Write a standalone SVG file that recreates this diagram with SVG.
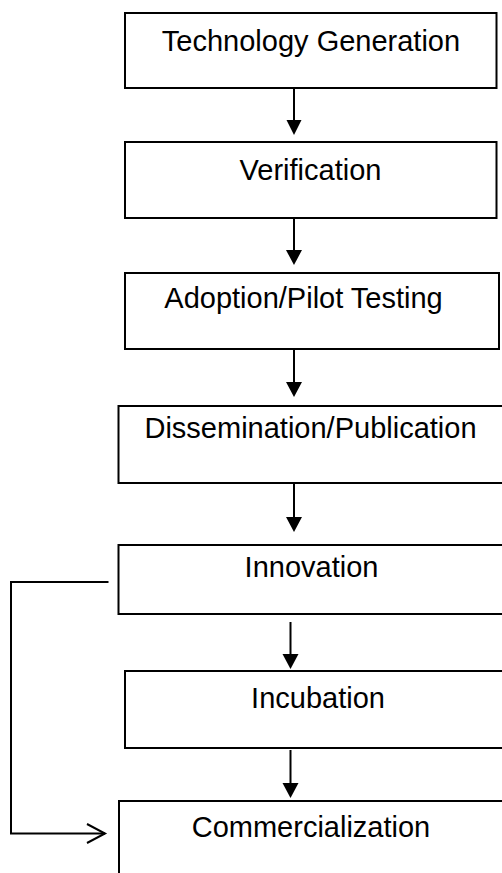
<svg xmlns="http://www.w3.org/2000/svg" width="502" height="873" viewBox="0 0 502 873">
<style>
.box{fill:#fff;stroke:#000;stroke-width:2}
.lbl{font-family:"Liberation Sans",Arial,sans-serif;font-size:29px;fill:#000;text-anchor:middle}
.ln{fill:none;stroke:#000;stroke-width:2}
.head{fill:#000;stroke:none}
</style>
<g id="node-technology-generation">
<rect class="box" x="125" y="13" width="371.5" height="75"/>
<text class="lbl" x="311" y="51">Technology Generation</text>
</g>
<g id="node-verification">
<rect class="box" x="125" y="142" width="371.5" height="76"/>
<text class="lbl" x="310.5" y="180">Verification</text>
</g>
<g id="node-adoption">
<rect class="box" x="125" y="273" width="374" height="76"/>
<text class="lbl" x="303.5" y="308">Adoption/Pilot Testing</text>
</g>
<g id="node-dissemination">
<rect class="box" x="118.5" y="406" width="390" height="77"/>
<text class="lbl" x="310.5" y="438">Dissemination/Publication</text>
</g>
<g id="node-innovation">
<rect class="box" x="118.5" y="545" width="390" height="69"/>
<text class="lbl" x="311.5" y="577">Innovation</text>
</g>
<g id="node-incubation">
<rect class="box" x="125" y="671" width="390" height="77"/>
<text class="lbl" x="318" y="708">Incubation</text>
</g>
<g id="node-commercialization">
<rect class="box" x="119" y="801" width="390" height="90"/>
<text class="lbl" x="311" y="837">Commercialization</text>
</g>
<g id="connectors">
<line class="ln" x1="294" y1="88" x2="294" y2="121"/>
<path class="head" d="M286.5,120 L301.5,120 L294,135 Z"/>
<line class="ln" x1="294" y1="218" x2="294" y2="251"/>
<path class="head" d="M286,250 L302,250 L294,265 Z"/>
<line class="ln" x1="294" y1="349" x2="294" y2="383"/>
<path class="head" d="M286,382 L302,382 L294,397 Z"/>
<line class="ln" x1="294" y1="483" x2="294" y2="518"/>
<path class="head" d="M286,517 L302,517 L294,532 Z"/>
<line class="ln" x1="290.5" y1="622" x2="290.5" y2="655"/>
<path class="head" d="M282.5,654 L298.5,654 L290.5,669 Z"/>
<line class="ln" x1="290.5" y1="750" x2="290.5" y2="784"/>
<path class="head" d="M282.5,783 L298.5,783 L290.5,798 Z"/>
<polyline class="ln" points="108.5,582 11,582 11,833.5 105,833.5"/>
<polyline class="ln" points="87,824 105,833.5 87,843"/>
</g>
</svg>
